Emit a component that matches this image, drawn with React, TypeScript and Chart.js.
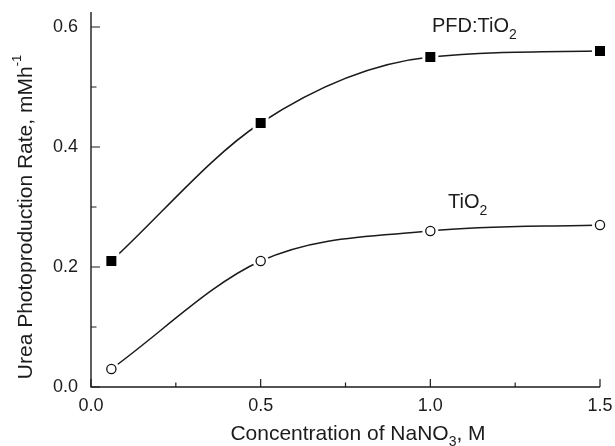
import { useEffect, useRef } from 'react';
import { Chart, registerables } from 'chart.js';

Chart.register(...registerables);

const concentrations = [0.06, 0.5, 1.0, 1.5];
const pfdTiO2 = [0.21, 0.44, 0.55, 0.56];
const tio2 = [0.03, 0.21, 0.26, 0.27];
const xMajorTicks = [0, 0.5, 1.0, 1.5];
const xMinorTicks = [0.25, 0.75, 1.25];
const yMajorTicks = [0, 0.2, 0.4, 0.6];
const yMinorTicks = [0.1, 0.3, 0.5];

const FONT = "'Liberation Sans', Arial, Helvetica, sans-serif";
const INK = '#1c1c1c';

type Piece = { t: string; size: number; dy: number };

function drawPieces(ctx: CanvasRenderingContext2D, pieces: Piece[], x: number, y: number, align: 'left' | 'center') {
  let total = 0;
  const widths = pieces.map((p) => {
    ctx.font = `${p.size}px ${FONT}`;
    const w = ctx.measureText(p.t).width;
    total += w;
    return w;
  });
  let cx = align === 'center' ? x - total / 2 : x;
  pieces.forEach((p, i) => {
    ctx.font = `${p.size}px ${FONT}`;
    ctx.fillText(p.t, cx, y + p.dy);
    cx += widths[i];
  });
}

const decorPlugin = {
  id: 'decor',
  afterDatasetsDraw(chart: any) {
    const ctx: CanvasRenderingContext2D = chart.ctx;
    const xs = chart.scales.x;
    const ys = chart.scales.y;
    const left = xs.getPixelForValue(0);
    const bottom = ys.getPixelForValue(0);
    const right = xs.getPixelForValue(1.5);
    const top = ys.getPixelForValue(0.625);
    ctx.save();
    // markers with white gap
    chart.data.datasets.forEach((ds: any, di: number) => {
      const meta = chart.getDatasetMeta(di);
      meta.data.forEach((pt: any) => {
        const { x, y } = pt;
        if (ds.marker === 'square') {
          ctx.fillStyle = '#fff';
          ctx.fillRect(x - 8, y - 8, 16, 16);
          ctx.fillStyle = '#000';
          ctx.fillRect(x - 5, y - 5, 10, 10);
        } else {
          ctx.fillStyle = '#fff';
          ctx.beginPath();
          ctx.arc(x, y, 8, 0, Math.PI * 2);
          ctx.fill();
          ctx.beginPath();
          ctx.arc(x, y, 4.6, 0, Math.PI * 2);
          ctx.fillStyle = '#fff';
          ctx.fill();
          ctx.lineWidth = 1.3;
          ctx.strokeStyle = '#111';
          ctx.stroke();
        }
      });
    });
    // axes
    ctx.strokeStyle = INK;
    ctx.lineWidth = 1.4;
    ctx.beginPath();
    ctx.moveTo(left, top);
    ctx.lineTo(left, bottom);
    ctx.lineTo(right, bottom);
    ctx.stroke();
    ctx.lineWidth = 1.2;
    ctx.beginPath();
    xMajorTicks.forEach((v) => {
      const px = xs.getPixelForValue(v);
      ctx.moveTo(px, bottom);
      ctx.lineTo(px, bottom - 8);
    });
    xMinorTicks.forEach((v) => {
      const px = xs.getPixelForValue(v);
      ctx.moveTo(px, bottom);
      ctx.lineTo(px, bottom - 4.5);
    });
    yMajorTicks.forEach((v) => {
      const py = ys.getPixelForValue(v);
      ctx.moveTo(left, py);
      ctx.lineTo(left + 9, py);
    });
    yMinorTicks.forEach((v) => {
      const py = ys.getPixelForValue(v);
      ctx.moveTo(left, py);
      ctx.lineTo(left + 5.5, py);
    });
    ctx.stroke();

    // annotations
    ctx.fillStyle = INK;
    ctx.textBaseline = 'alphabetic';
    ctx.textAlign = 'left';
    drawPieces(
      ctx,
      [
        { t: 'PFD:TiO', size: 20, dy: 0 },
        { t: '2', size: 14, dy: 7 },
      ],
      xs.getPixelForValue(1.005),
      ys.getPixelForValue(0.592),
      'left'
    );
    drawPieces(
      ctx,
      [
        { t: 'TiO', size: 20, dy: 0 },
        { t: '2', size: 14, dy: 7 },
      ],
      xs.getPixelForValue(1.052),
      ys.getPixelForValue(0.298),
      'left'
    );

    // x title
    drawPieces(
      ctx,
      [
        { t: 'Concentration of NaNO', size: 21, dy: 0 },
        { t: '3', size: 14, dy: 6 },
        { t: ', M', size: 21, dy: 0 },
      ],
      358,
      440,
      'center'
    );
    // y title
    ctx.translate(32, 217);
    ctx.rotate(-Math.PI / 2);
    drawPieces(
      ctx,
      [
        { t: 'Urea Photoproduction Rate, mMh', size: 21, dy: 0 },
        { t: '-1', size: 13, dy: -11 },
      ],
      0,
      0,
      'center'
    );
    ctx.restore();
  },
};

export default function App() {
  const ref = useRef<HTMLCanvasElement>(null);
  useEffect(() => {
    document.body.style.margin = '0';
    const canvas = ref.current;
    if (!canvas) return;
    const chart = new Chart(canvas, {
      type: 'line',
      data: {
        datasets: [
          {
            label: 'PFD:TiO2',
            data: concentrations.map((x, i) => ({ x, y: pfdTiO2[i] })),
            borderColor: '#1a1a1a',
            borderWidth: 1.5,
            pointRadius: 0,
            cubicInterpolationMode: 'monotone',
            clip: false,
            marker: 'square',
          } as any,
          {
            label: 'TiO2',
            data: concentrations.map((x, i) => ({ x, y: tio2[i] })),
            borderColor: '#1a1a1a',
            borderWidth: 1.5,
            pointRadius: 0,
            cubicInterpolationMode: 'monotone',
            clip: false,
            marker: 'circle',
          } as any,
        ],
      },
      options: {
        responsive: false,
        animation: false,
        layout: { padding: { left: 0, right: 15, top: 12, bottom: 0 } },
        plugins: { legend: { display: false }, tooltip: { enabled: false } },
        scales: {
          x: {
            type: 'linear',
            min: 0,
            max: 1.5,
            grid: { display: false, drawTicks: false },
            border: { display: false },
            afterBuildTicks: (s: any) => {
              s.ticks = xMajorTicks.map((value) => ({ value }));
            },
            afterFit: (s: any) => {
              s.height = 59;
              s.paddingLeft = 0;
              s.paddingRight = 0;
            },
            ticks: {
              padding: 8,
              maxRotation: 0,
              color: INK,
              font: { family: FONT, size: 18 },
              callback: (v: any) => Number(v).toFixed(1),
            },
          },
          y: {
            type: 'linear',
            min: 0,
            max: 0.625,
            grid: { display: false, drawTicks: false },
            border: { display: false },
            afterBuildTicks: (s: any) => {
              s.ticks = yMajorTicks.map((value) => ({ value }));
            },
            afterFit: (s: any) => {
              s.width = 91;
              s.paddingTop = 0;
              s.paddingBottom = 0;
            },
            ticks: {
              padding: 13,
              color: INK,
              font: { family: FONT, size: 18 },
              callback: (v: any) => Number(v).toFixed(1),
            },
          },
        },
      },
      plugins: [decorPlugin],
    });
    return () => chart.destroy();
  }, []);
  return (
    <div style={{ position: 'absolute', left: 0, top: 0, width: 615, height: 446, background: '#fff' }}>
      <canvas ref={ref} width={615} height={446} style={{ width: 615, height: 446 }} />
    </div>
  );
}
